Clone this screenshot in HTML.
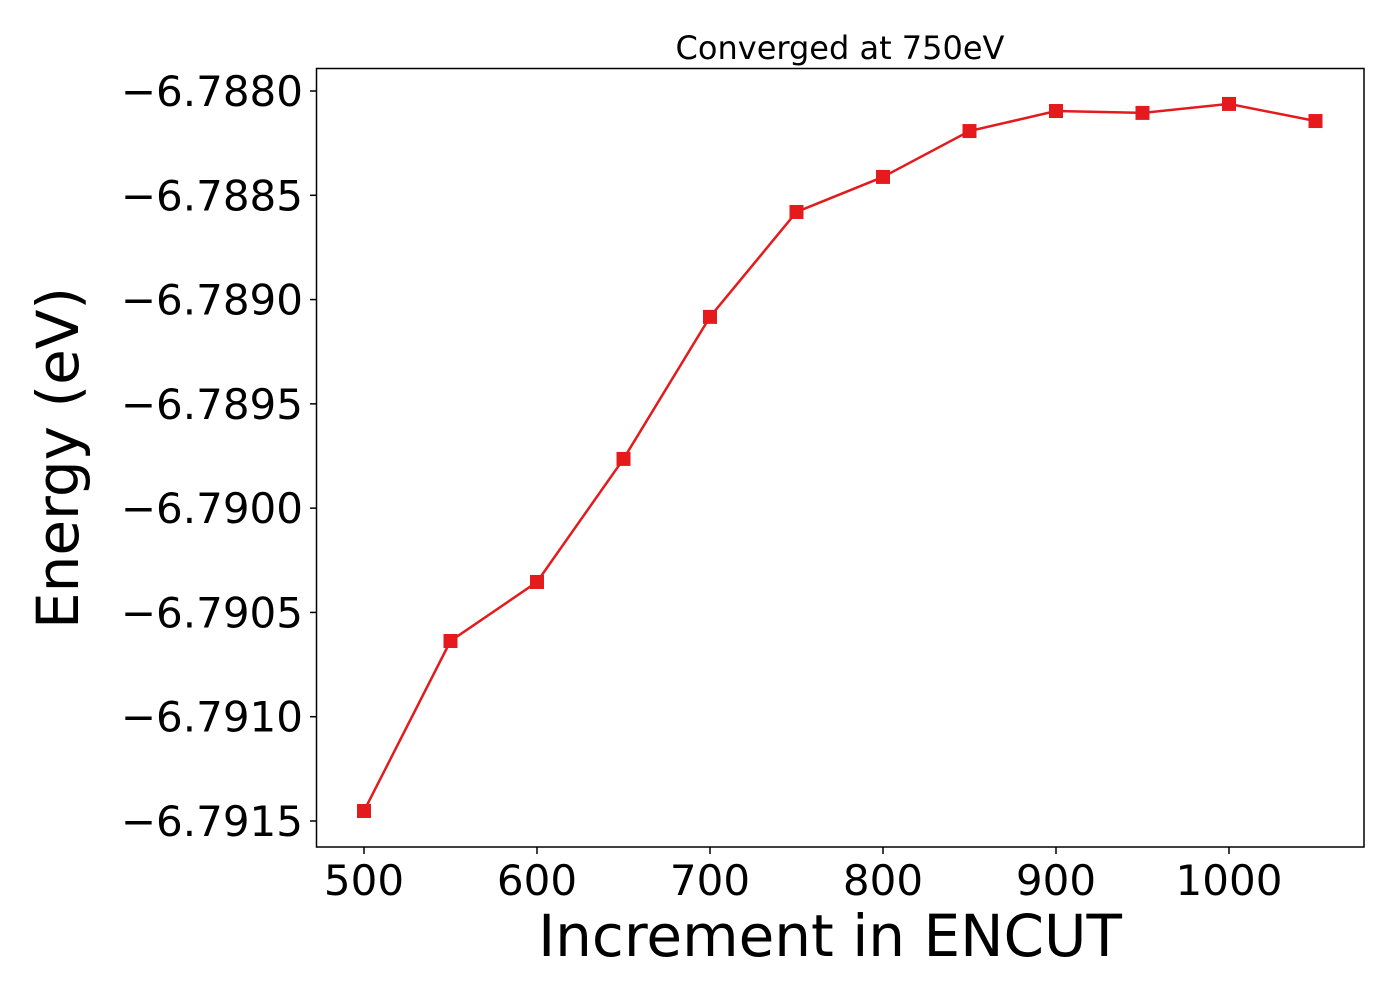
<!DOCTYPE html>
<html><head><meta charset="utf-8"><style>
html,body{margin:0;padding:0;background:#fff;}
svg text{font-family:"DejaVu Sans","Liberation Sans",sans-serif;fill:#000;}
</style></head><body>
<svg id="chart" width="1400" height="1000" xmlns="http://www.w3.org/2000/svg">
<rect width="1400" height="1000" fill="#fff"/>
<text x="840" y="59" font-size="32" text-anchor="middle">Converged at 750eV</text>
<g id="ticks"></g>
<polyline id="line" fill="none" stroke="#e41a1c" stroke-width="2.5"/>
<g id="markers"></g>
<rect x="316.5" y="68.5" width="1047.5" height="778.5" fill="none" stroke="#000" stroke-width="1.5"/>
<text x="830" y="956" font-size="58" text-anchor="middle">Increment in ENCUT</text>
<text transform="translate(78,458) rotate(-90)" font-size="58" text-anchor="middle">Energy (eV)</text>
</svg>
<script>
const encut = [500,550,600,650,700,750,800,850,900,950,1000,1050];
const energy = [-6.791452,-6.790637,-6.790354,-6.789764,-6.789083,-6.788580,-6.788412,-6.788192,-6.788096,-6.788105,-6.788062,-6.788144];
const xTicks = [500,600,700,800,900,1000];
const yTicks = [-6.7880,-6.7885,-6.7890,-6.7895,-6.7900,-6.7905,-6.7910,-6.7915];
const yTickLabels = ["−6.7880","−6.7885","−6.7890","−6.7895","−6.7900","−6.7905","−6.7910","−6.7915"];
const NS="http://www.w3.org/2000/svg";
function xs(v){return 364+(v-500)*(1229-364)/500;}
function ys(v){return 91+(-6.7880-v)*(821-91)/0.0035;}
const tg=document.getElementById('ticks');
xTicks.forEach(t=>{
  const l=document.createElementNS(NS,'line');
  
  
  l.setAttribute('x1',xs(t));l.setAttribute('x2',xs(t));l.setAttribute('y1',847);l.setAttribute('y2',854);l.setAttribute('stroke','#000');l.setAttribute('stroke-width','1.5');
  tg.appendChild(l);
  const tx=document.createElementNS(NS,'text');
  
  
  tx.setAttribute('x',xs(t));tx.setAttribute('y',895);tx.setAttribute('font-size','42');tx.setAttribute('text-anchor','middle');
  tx.textContent=t;tg.appendChild(tx);
});
yTicks.forEach((t,i)=>{
  const l=document.createElementNS(NS,'line');
  
  
  l.setAttribute('x1',310);l.setAttribute('x2',317);l.setAttribute('y1',ys(t));l.setAttribute('y2',ys(t));l.setAttribute('stroke','#000');l.setAttribute('stroke-width','1.5');
  tg.appendChild(l);
  const tx=document.createElementNS(NS,'text');
  
  
  tx.setAttribute('x',303);tx.setAttribute('y',ys(t)+15);tx.setAttribute('font-size','42');tx.setAttribute('text-anchor','end');
  tx.textContent=yTickLabels[i];tg.appendChild(tx);
});
document.getElementById('line').setAttribute('points',encut.map((x,i)=>xs(x)+','+ys(energy[i])).join(' '));
const mg=document.getElementById('markers');
encut.forEach((x,i)=>{
  const r=document.createElementNS(NS,'rect');
  
  
  r.setAttribute('x',xs(x)-7);r.setAttribute('y',ys(energy[i])-7);r.setAttribute('width',14);r.setAttribute('height',14);r.setAttribute('fill','#e41a1c');
  mg.appendChild(r);
});
</script>
</body></html>
